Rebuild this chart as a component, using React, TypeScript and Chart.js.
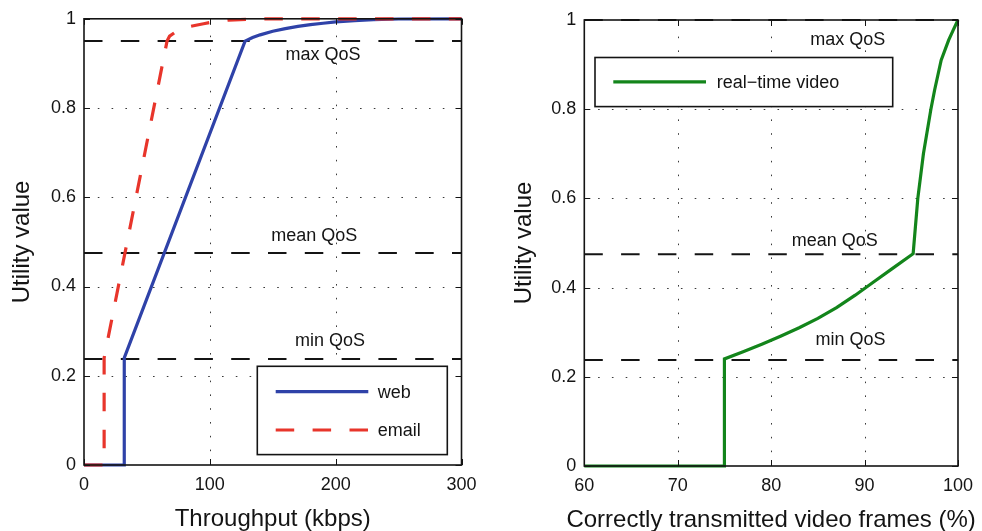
import React, { useEffect, useRef } from "react";
import { Chart, registerables } from "chart.js";

Chart.register(...registerables);

const FONT = '"Liberation Sans", Arial, Helvetica, sans-serif';
const INK = "#141414";

// ---------- Left panel: throughput (kbps) ----------
const webX = [0, 32, 32, 128, 134, 140, 150, 160, 170, 180, 190, 200, 215, 230, 250, 300];
const webY = [0, 0, 0.24, 0.95, 0.958, 0.964, 0.972, 0.978, 0.983, 0.987, 0.99, 0.993, 0.996, 0.998, 0.9995, 1];
const emailX = [0, 16, 16, 66, 68, 72, 76, 80, 88, 95, 105, 115, 130, 150, 300];
const emailY = [0, 0, 0.24, 0.95, 0.961, 0.969, 0.975, 0.98, 0.985, 0.989, 0.994, 0.997, 0.999, 1, 1];
const leftQos = [0.95, 0.475, 0.2375];
const leftXTicks = [0, 100, 200, 300];

// ---------- Right panel: correctly transmitted video frames (%) ----------
const videoX = [60, 75, 75, 77, 79, 81, 83, 85, 87, 89, 91, 93, 95.2, 95.7, 96.3, 97.1, 97.5, 98.2, 99.0, 99.5, 100];
const videoY = [0, 0, 0.24, 0.256, 0.273, 0.291, 0.31, 0.331, 0.355, 0.383, 0.413, 0.443, 0.476, 0.6, 0.7, 0.8, 0.843, 0.91, 0.955, 0.978, 1];
const rightQos = [1.0, 0.475, 0.2375];
const rightXTicks = [60, 70, 80, 90, 100];

// ---------- shared ----------
const yTicks = [0, 0.2, 0.4, 0.6, 0.8, 1];
const qosNames = ["max QoS", "mean QoS", "min QoS"];

// label anchor points (data coordinates) for the QoS annotations
const leftQosLabelAt = [
  [190, 0.918],
  [183, 0.514],
  [195.5, 0.278],
];
const rightQosLabelAt = [
  [88.2, 0.954],
  [86.8, 0.504],
  [88.5, 0.2825],
];

type Series = { label: string; xs: number[]; ys: number[]; color: string; dash: number[] };
type LegendSpec = { dx: number; dy: number; w: number; h: number; rows: number[]; lineX0: number; lineX1: number; textX: number };
type Spec = {
  series: Series[];
  qos: number[];
  labelAt: number[][];
  xMin: number;
  xMax: number;
  xTicks: number[];
  xTitle: string;
  yTitle: string;
  padTop: number;
  padRight: number;
  yAxisWidth: number;
  xAxisHeight: number;
  xTitleBaseline: number;
  yTitleBaselineX: number;
  legend: LegendSpec;
};

const leftSpec: Spec = {
  series: [
    { label: "email", xs: emailX, ys: emailY, color: "#e8352b", dash: [18.5, 18.4] },
    { label: "web", xs: webX, ys: webY, color: "#2f42a8", dash: [] },
  ],
  qos: leftQos,
  labelAt: leftQosLabelAt,
  xMin: 0,
  xMax: 300,
  xTicks: leftXTicks,
  xTitle: "Throughput (kbps)",
  yTitle: "Utility value",
  padTop: 17.5,
  padRight: 29.5,
  yAxisWidth: 84,
  xAxisHeight: 66,
  xTitleBaseline: 526,
  yTitleBaselineX: 29,
  legend: { dx: 173.3, dy: 347.5, w: 190, h: 88.3, rows: [25.3, 63.7], lineX0: 18.4, lineX1: 111, textX: 120.4 },
};

const rightSpec: Spec = {
  series: [{ label: "real\u2212time video", xs: videoX, ys: videoY, color: "#13851b", dash: [] }],
  qos: rightQos,
  labelAt: rightQosLabelAt,
  xMin: 60,
  xMax: 100,
  xTicks: rightXTicks,
  xTitle: "Correctly transmitted video frames (%)",
  yTitle: "Utility value",
  padTop: 20,
  padRight: 16,
  yAxisWidth: 93.3,
  xAxisHeight: 65,
  xTitleBaseline: 527,
  yTitleBaselineX: 39.5,
  legend: { dx: 10.7, dy: 37.5, w: 297.7, h: 49.1, rows: [24.4], lineX0: 18.3, lineX1: 111, textX: 121.7 },
};

function makeConfig(spec: Spec): any {
  const curveSets = spec.series.map((s, i) => ({
    label: s.label,
    data: s.xs.map((x, k) => ({ x, y: s.ys[k] })),
    borderColor: s.color,
    backgroundColor: s.color,
    borderWidth: 3.2,
    borderDash: s.dash,
    pointRadius: 0,
    tension: 0,
    fill: false,
    order: i,
    clip: 4,
  }));
  const qosSets = spec.qos.map((q, i) => ({
    label: qosNames[i],
    data: [
      { x: spec.xMin, y: q },
      { x: spec.xMax, y: q },
    ],
    borderColor: INK,
    borderWidth: 2,
    borderDash: [18.5, 18.3],
    pointRadius: 0,
    tension: 0,
    fill: false,
    order: 10 + i,
    clip: 4,
  }));

  const decor = {
    id: "panelDecor",
    beforeDatasetsDraw(chart: any) {
      const { ctx, chartArea: a, scales } = chart;
      const xs = scales.x;
      const ys = scales.y;
      ctx.save();
      ctx.strokeStyle = "#3a3a3a";
      ctx.lineWidth = 1;
      ctx.setLineDash([1.6, 12.2]);
      for (const v of spec.xTicks) {
        if (v === spec.xMin || v === spec.xMax) continue;
        const px = Math.round(xs.getPixelForValue(v)) + 0.5;
        ctx.beginPath();
        ctx.moveTo(px, a.bottom);
        ctx.lineTo(px, a.top);
        ctx.stroke();
      }
      for (const v of yTicks) {
        if (v === 0 || v === 1) continue;
        const py = Math.round(ys.getPixelForValue(v)) + 0.5;
        ctx.beginPath();
        ctx.moveTo(a.left, py);
        ctx.lineTo(a.right, py);
        ctx.stroke();
      }
      ctx.restore();
    },
    afterDraw(chart: any) {
      const { ctx, chartArea: a, scales } = chart;
      const xs = scales.x;
      const ys = scales.y;
      ctx.save();
      // inward tick marks
      ctx.strokeStyle = INK;
      ctx.lineWidth = 1;
      ctx.setLineDash([]);
      const tl = 6;
      for (const v of spec.xTicks) {
        const px = Math.round(xs.getPixelForValue(v)) + 0.5;
        ctx.beginPath();
        ctx.moveTo(px, a.bottom);
        ctx.lineTo(px, a.bottom - tl);
        ctx.moveTo(px, a.top);
        ctx.lineTo(px, a.top + tl);
        ctx.stroke();
      }
      for (const v of yTicks) {
        const py = Math.round(ys.getPixelForValue(v)) + 0.5;
        ctx.beginPath();
        ctx.moveTo(a.left, py);
        ctx.lineTo(a.left + tl, py);
        ctx.moveTo(a.right, py);
        ctx.lineTo(a.right - tl, py);
        ctx.stroke();
      }
      // box
      ctx.lineWidth = 1.6;
      ctx.strokeRect(a.left, a.top, a.right - a.left, a.bottom - a.top);

      // QoS labels
      ctx.fillStyle = INK;
      ctx.font = `18px ${FONT}`;
      ctx.textAlign = "center";
      ctx.textBaseline = "middle";
      spec.labelAt.forEach((p, i) => {
        ctx.fillText(qosNames[i], xs.getPixelForValue(p[0]), ys.getPixelForValue(p[1]));
      });

      // legend
      const L = spec.legend;
      const bx = a.left + L.dx;
      const by = a.top + L.dy;
      ctx.fillStyle = "#ffffff";
      ctx.fillRect(bx, by, L.w, L.h);
      ctx.strokeStyle = INK;
      ctx.lineWidth = 1.6;
      ctx.strokeRect(bx, by, L.w, L.h);
      const order = spec.series.length > 1 ? [1, 0] : [0];
      order.forEach((si, r) => {
        const s = spec.series[si];
        const ly = by + L.rows[r];
        ctx.strokeStyle = s.color;
        ctx.lineWidth = 3.2;
        ctx.setLineDash(s.dash);
        ctx.beginPath();
        ctx.moveTo(bx + L.lineX0, ly);
        ctx.lineTo(bx + L.lineX1, ly);
        ctx.stroke();
        ctx.setLineDash([]);
        ctx.fillStyle = INK;
        ctx.font = `18px ${FONT}`;
        ctx.textAlign = "left";
        ctx.textBaseline = "middle";
        ctx.fillText(s.label, bx + L.textX, ly + 1);
      });

      // axis titles
      ctx.fillStyle = INK;
      ctx.font = `24px ${FONT}`;
      ctx.textAlign = "center";
      ctx.textBaseline = "alphabetic";
      ctx.fillText(spec.xTitle, (a.left + a.right) / 2, spec.xTitleBaseline);
      ctx.translate(spec.yTitleBaselineX, (a.top + a.bottom) / 2);
      ctx.rotate(-Math.PI / 2);
      ctx.fillText(spec.yTitle, 0, 0);
      ctx.restore();
    },
  };

  return {
    type: "line",
    data: { datasets: [...curveSets, ...qosSets] },
    options: {
      animation: false,
      responsive: false,
      devicePixelRatio: 1,
      events: [],
      layout: { padding: { left: 0, top: spec.padTop, right: spec.padRight, bottom: 0 } },
      plugins: { legend: { display: false }, tooltip: { enabled: false } },
      scales: {
        x: {
          type: "linear",
          min: spec.xMin,
          max: spec.xMax,
          grid: { display: false, drawTicks: false, tickLength: 0 },
          border: { display: false },
          afterBuildTicks: (sc: any) => {
            sc.ticks = spec.xTicks.map((v) => ({ value: v }));
          },
          afterFit: (sc: any) => {
            sc.height = spec.xAxisHeight;
          },
          ticks: {
            autoSkip: false,
            maxRotation: 0,
            minRotation: 0,
            padding: 9,
            color: INK,
            font: { family: FONT, size: 18 },
            callback: (v: any) => String(v),
          },
        },
        y: {
          type: "linear",
          min: 0,
          max: 1,
          grid: { display: false, drawTicks: false, tickLength: 0 },
          border: { display: false },
          afterBuildTicks: (sc: any) => {
            sc.ticks = yTicks.map((v) => ({ value: v }));
          },
          afterFit: (sc: any) => {
            sc.width = spec.yAxisWidth;
          },
          ticks: {
            autoSkip: false,
            padding: 8,
            color: INK,
            font: { family: FONT, size: 18 },
            callback: (v: any) => String(v),
          },
        },
      },
    },
    plugins: [decor],
  };
}

function Panel({ spec, left }: { spec: Spec; left: number }) {
  const ref = useRef<HTMLCanvasElement>(null);
  useEffect(() => {
    const chart = new Chart(ref.current as HTMLCanvasElement, makeConfig(spec));
    return () => chart.destroy();
  }, [spec]);
  return (
    <canvas
      ref={ref}
      width={491}
      height={531}
      style={{ position: "absolute", left, top: 0, width: 491, height: 531 }}
    />
  );
}

export default function App() {
  return (
    <div style={{ position: "fixed", left: 0, top: 0, width: 982, height: 531, background: "#fff" }}>
      <Panel spec={leftSpec} left={0} />
      <Panel spec={rightSpec} left={491} />
    </div>
  );
}
